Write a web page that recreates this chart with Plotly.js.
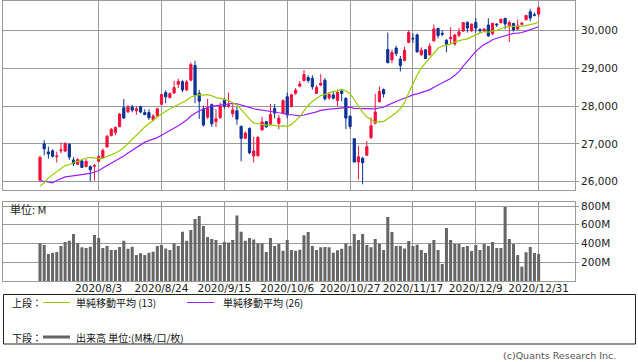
<!DOCTYPE html>
<html><head><meta charset="utf-8">
<script src="https://cdn.plot.ly/plotly-3.0.1.min.js"></script>
<style>html,body{margin:0;padding:0;background:#fff;}#chart{width:638px;height:362px;}</style>
</head><body><div id="chart"></div>
<script>
// ---- data ----
const dates = [
'2020-07-14','2020-07-15','2020-07-16','2020-07-17','2020-07-20','2020-07-21','2020-07-22','2020-07-23','2020-07-24','2020-07-27','2020-07-28','2020-07-29','2020-07-30','2020-07-31',
'2020-08-03','2020-08-04','2020-08-05','2020-08-06','2020-08-07','2020-08-10','2020-08-11','2020-08-12','2020-08-13','2020-08-14','2020-08-17','2020-08-18','2020-08-19','2020-08-20','2020-08-21','2020-08-24','2020-08-25','2020-08-26','2020-08-27','2020-08-28','2020-08-31',
'2020-09-01','2020-09-02','2020-09-03','2020-09-04','2020-09-08','2020-09-09','2020-09-10','2020-09-11','2020-09-14','2020-09-15','2020-09-16','2020-09-17','2020-09-18','2020-09-21','2020-09-22','2020-09-23','2020-09-24','2020-09-25','2020-09-28','2020-09-29','2020-09-30',
'2020-10-01','2020-10-02','2020-10-05','2020-10-06','2020-10-07','2020-10-08','2020-10-09','2020-10-12','2020-10-13','2020-10-14','2020-10-15','2020-10-16','2020-10-19','2020-10-20','2020-10-21','2020-10-22','2020-10-23','2020-10-26','2020-10-27','2020-10-28','2020-10-29','2020-10-30',
'2020-11-02','2020-11-03','2020-11-04','2020-11-05','2020-11-06','2020-11-09','2020-11-10','2020-11-11','2020-11-12','2020-11-13','2020-11-16','2020-11-17','2020-11-18','2020-11-19','2020-11-20','2020-11-23','2020-11-24','2020-11-25','2020-11-27','2020-11-30',
'2020-12-01','2020-12-02','2020-12-03','2020-12-04','2020-12-07','2020-12-08','2020-12-09','2020-12-10','2020-12-11','2020-12-14','2020-12-15','2020-12-16','2020-12-17','2020-12-18','2020-12-21','2020-12-22','2020-12-23','2020-12-24','2020-12-28','2020-12-29','2020-12-30','2020-12-31'
];
const openPx = [
26040,27000,26790,26820,26660,26820,26810,26990,26575,26460,26550,26400,26400,26410,
26540,26640,26920,27220,27300,27460,27960,27850,27980,27880,27990,27830,27830,27640,27742,28050,28360,28230,28350,28580,28650,
28430,28690,29080,28340,27930,27710,28040,27590,27700,28160,28000,27800,27880,27470,27150,27410,26680,26690,27370,27590,27520,
27940,27546,27810,28250,27990,28340,28530,28680,28760,28740,28340,28560,28690,28220,28300,28150,28400,28210,27735,27140,26520,26620,
26700,27170,27550,28120,28440,29500,29230,29540,29250,29210,29690,29800,29890,29360,29495,29363,29733,30062,29930,29750,
29790,29650,29880,29990,30220,30000,30220,30030,29990,30151,29920,30175,30210,30330,30130,30190,30040,30170,30290,30500,30420,30440
];
const highPx = [
26690,27100,26930,26860,26796,27034,27050,27010,26650,26620,26580,26600,26430,26470,
26710,26880,27240,27420,27470,27820,28190,28030,28040,27990,28010,27920,27920,27790,27960,28330,28420,28370,28670,28730,28690,
28690,29160,29200,28430,28010,28190,28070,27920,28100,28210,28360,28050,27980,27480,27330,27440,27190,27210,27720,27610,28060,
28060,27770,28180,28360,28330,28480,28670,28960,28820,28820,28560,28850,28740,28380,28370,28440,28430,28230,27760,27140,26950,26660,
27080,27700,28330,28520,28470,29950,29500,29600,29330,29580,30010,29930,29920,29560,29510,29670,30160,30070,30000,29770,
30090,29920,30070,30230,30250,30190,30330,30060,30060,30328,30200,30200,30320,30330,30270,30210,30300,30230,30420,30580,30480,30650
];
const lowPx = [
26010,26700,26610,26640,26505,26751,26790,26580,26420,26440,26370,26380,26010,26030,
26520,26620,26910,27200,27230,27440,27660,27820,27840,27770,27810,27760,27640,27600,27710,28030,28080,28200,28320,28480,28370,
28400,28660,28080,27665,27460,27660,27450,27450,27660,27930,27960,27710,27510,26540,27130,26730,26510,26660,27360,27430,27500,
27680,27390,27790,27680,27970,28300,28500,28650,28620,28440,28320,28530,28150,28170,28180,28000,28130,27390,27400,26520,26060,25930,
26680,27130,27520,28100,28230,29130,29140,29330,28920,29190,29670,29670,29420,29340,29250,29340,29710,29800,29850,29430,
29650,29600,29830,29970,29950,29970,29950,29930,29960,29840,29880,30100,30200,30040,29700,29980,30020,30140,30280,30250,30380,30360
];
const closePx = [
26643,26870,26735,26672,26681,26840,27006,26652,26470,26585,26379,26540,26314,26428,
26664,26828,27202,27387,27433,27791,27687,27977,27897,27931,27845,27778,27693,27740,27930,28308,28248,28332,28492,28654,28430,
28646,29101,28293,28133,27501,27940,27535,27666,27993,27996,28032,27902,27657,27148,27288,26763,26815,27174,27584,27453,27782,
27817,27683,28149,27773,28303,28426,28587,28838,28680,28514,28494,28606,28195,28309,28211,28364,28336,27685,27463,26520,26659,26502,
26925,27480,27848,28390,28323,29158,29421,29398,29080,29480,29950,29783,29438,29483,29263,29591,30046,29872,29910,29639,
29824,29884,29970,30218,30070,30174,30069,29999,30046,29862,30199,30155,30303,30179,30216,30016,30130,30200,30404,30336,30410,30606
];
// closes of the 25 sessions before the first bar (needed for the moving averages)
const priorCloses = [27572,27272,26990,25128,25606,25763,26290,26120,26080,25871,26025,26156,25446,25746,25016,25596,25813,25735,25827,26287,25890,26067,25706,26075,26086];
const volumeM = [
402,384,288,302,309,373,416,430,501,402,359,352,366,491,
459,352,373,331,331,363,430,345,366,277,295,277,302,313,373,384,348,331,402,373,526,
430,544,661,693,587,469,448,437,384,416,412,437,700,526,430,459,444,402,402,309,459,
373,395,324,437,331,324,334,487,523,373,331,359,363,359,302,327,345,402,373,501,437,501,
384,359,448,398,331,683,523,373,373,348,427,373,388,331,299,395,437,331,181,565,
437,395,395,363,373,320,384,331,395,373,416,352,352,789,448,395,277,153,306,363,299,288
];
const tickDates = ['2020-08-03','2020-08-24','2020-09-15','2020-10-06','2020-10-27','2020-11-17','2020-12-09','2020-12-31'];
const tickLabels = ['2020/8/3','2020/8/24','2020/9/15','2020/10/6','2020/10/27','2020/11/17','2020/12/9','2020/12/31'];
const priceTicks = [26000,27000,28000,29000,30000];
const volTicks = [200,400,600,800];
const volTickLabels = ['200M','400M','600M','800M'];

// ---- simple moving averages of the close ----
function sma(n){
  const all = priorCloses.concat(closePx);
  const off = priorCloses.length;
  return closePx.map((_, i) => {
    let s = 0;
    for (let k = off + i - n + 1; k <= off + i; k++) s += all[k];
    return s / n;
  });
}
const ma13 = sma(13), ma26 = sma(26);

// ---- styling ----
const RED = '#f2103c', BLUE = '#0a3296', GREEN = '#99cc00', PURPLE = '#9a1cff', GRID = '#9a9a9a', VOL = '#666666';
const L = 3, R = 575, T = 1, B = 281;
const px = x => (x - L) / (R - L);
const py = y => (B - y) / (B - T);
const xr = [-8.83, 127.68];
const tickFont = {family: 'DejaVu Sans, sans-serif', size: 10.5, color: '#222'};
const jp = 'Noto Sans CJK JP, sans-serif';

const traces = [
  {type: 'candlestick', x: dates, open: openPx, high: highPx, low: lowPx, close: closePx,
   xaxis: 'x', yaxis: 'y', hoverinfo: 'skip', whiskerwidth: 0,
   increasing: {line: {color: RED, width: 1}, fillcolor: RED},
   decreasing: {line: {color: BLUE, width: 1}, fillcolor: BLUE}},
  {type: 'scatter', mode: 'lines', x: dates, y: ma26, xaxis: 'x', yaxis: 'y', line: {color: PURPLE, width: 1.2}, hoverinfo: 'skip'},
  {type: 'scatter', mode: 'lines', x: dates, y: ma13, xaxis: 'x', yaxis: 'y', line: {color: GREEN, width: 1.2}, hoverinfo: 'skip'},
  {type: 'bar', x: dates, y: volumeM, xaxis: 'x2', yaxis: 'y2', marker: {color: VOL, line: {width: 0}}, width: 0.72, hoverinfo: 'skip'}
];

const axX = {type: 'category', range: xr, tickvals: tickDates, ticktext: tickLabels, ticks: '', tickangle: 0,
  showgrid: true, gridcolor: GRID, gridwidth: 1, showline: true, mirror: true, linecolor: GRID, linewidth: 1,
  zeroline: false, fixedrange: true};
const layout = {
  width: 638, height: 362, margin: {l: 3, r: 63, t: 1, b: 81, pad: 0},
  paper_bgcolor: '#fff', plot_bgcolor: '#fff', showlegend: false,
  boxgap: 0.3, boxgroupgap: 0.25,
  xaxis: Object.assign({}, axX, {anchor: 'y', showticklabels: false, rangeslider: {visible: false}}),
  xaxis2: Object.assign({}, axX, {anchor: 'y2', showticklabels: true, ticklabelstandoff: -3,
    tickfont: {family: 'DejaVu Sans, sans-serif', size: 10.5, color: '#222'}}),
  yaxis: {domain: [py(190), 1], side: 'right', range: [25780, 30787], tickvals: priceTicks, tickformat: ',d',
    ticks: 'outside', ticklen: 3, tickcolor: GRID, showgrid: true, gridcolor: GRID, showline: true, mirror: true,
    linecolor: GRID, zeroline: false, tickfont: tickFont, fixedrange: true},
  yaxis2: {domain: [0, py(201.7)], side: 'right', range: [0, 846], tickvals: volTicks, ticktext: volTickLabels,
    ticks: 'outside', ticklen: 3, tickcolor: GRID, showgrid: true, gridcolor: GRID, showline: true, mirror: true,
    linecolor: GRID, zeroline: false, tickfont: tickFont, fixedrange: true},
  shapes: [
    {type: 'rect', xref: 'paper', yref: 'paper', x0: px(3.5), x1: px(635.5), y0: py(294.5), y1: py(344), line: {color: '#222', width: 1}},
    {type: 'line', xref: 'paper', yref: 'paper', x0: px(43), x1: px(70), y0: py(302.5), y1: py(302.5), line: {color: GREEN, width: 1}},
    {type: 'line', xref: 'paper', yref: 'paper', x0: px(187), x1: px(214), y0: py(302.5), y1: py(302.5), line: {color: PURPLE, width: 1}},
    {type: 'line', xref: 'paper', yref: 'paper', x0: px(43), x1: px(70), y0: py(337), y1: py(337), line: {color: VOL, width: 3}}
  ],
  annotations: [
    {xref: 'paper', yref: 'paper', x: px(8), y: py(209), xanchor: 'left', yanchor: 'middle', showarrow: false, text: '単位: M', font: {family: jp, size: 11, color: '#222'}},
    {xref: 'paper', yref: 'paper', x: px(10), y: py(302.5), xanchor: 'left', yanchor: 'middle', showarrow: false, text: '上段：', font: {family: jp, size: 10, color: '#111'}},
    {xref: 'paper', yref: 'paper', x: px(74), y: py(302.5), xanchor: 'left', yanchor: 'middle', showarrow: false, text: '単純移動平均 (13)', font: {family: jp, size: 10, color: '#111'}},
    {xref: 'paper', yref: 'paper', x: px(221), y: py(302.5), xanchor: 'left', yanchor: 'middle', showarrow: false, text: '単純移動平均 (26)', font: {family: jp, size: 10, color: '#111'}},
    {xref: 'paper', yref: 'paper', x: px(10), y: py(337), xanchor: 'left', yanchor: 'middle', showarrow: false, text: '下段：', font: {family: jp, size: 10, color: '#111'}},
    {xref: 'paper', yref: 'paper', x: px(74), y: py(337), xanchor: 'left', yanchor: 'middle', showarrow: false, text: '出来高 単位:(M株/口/枚)', font: {family: jp, size: 10, color: '#111'}},
    {xref: 'paper', yref: 'paper', x: px(618), y: py(355), xanchor: 'right', yanchor: 'middle', showarrow: false, text: '(c)Quants Research Inc.', font: {family: 'DejaVu Sans, sans-serif', size: 9.5, color: '#555'}}
  ]
};
Plotly.newPlot('chart', traces, layout, {staticPlot: true, displayModeBar: false});
</script>
</body></html>
